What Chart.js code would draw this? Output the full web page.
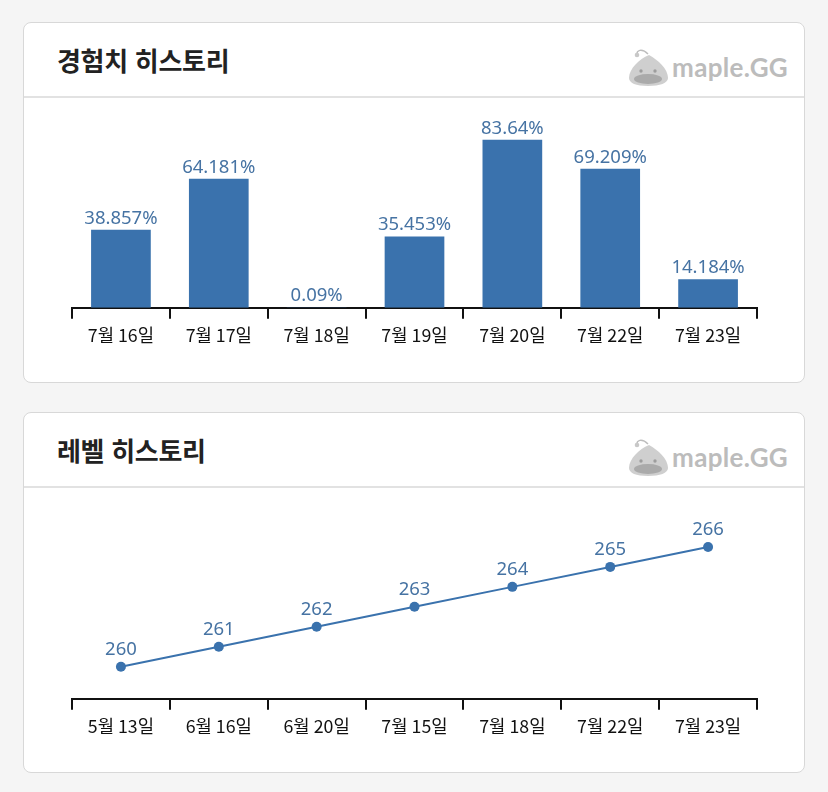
<!DOCTYPE html>
<html lang="ko">
<head>
<meta charset="utf-8">
<title>경험치 / 레벨 히스토리</title>
<script src="https://cdn.jsdelivr.net/npm/chart.js"></script>
<style>
    body {
        margin: 0;
        background: #f5f5f5;
        font-family: 'Noto Sans CJK KR', 'Noto Sans', sans-serif;
        width: 828px;
        height: 792px;
        position: relative;
        overflow: hidden;
    }
    .card {
        position: absolute;
        left: 23px;
        width: 780px;
        height: 359px;
        background: #fff;
        border: 1px solid #d8d8d8;
        border-radius: 8px;
    }
    .card-head {
        position: absolute;
        left: 0;
        top: 0;
        width: 780px;
        height: 73px;
        border-bottom: 2px solid #e2e2e2;
    }
    .card-head h2 {
        position: absolute;
        left: 33px;
        top: 18px;
        margin: 0;
        font-size: 26px;
        font-weight: 700;
        color: #222;
        letter-spacing: -0.3px;
    }
    .logo {
        position: absolute;
        right: 16px;
        top: 24px;
        height: 40px;
        display: flex;
        align-items: center;
        gap: 2px;
    }
    .logo span {
        font-family: 'Lato', sans-serif;
        font-weight: 700;
        font-size: 26px;
        color: #bcbcbc;
        letter-spacing: 0.3px;
    }
    canvas {
        position: absolute;
        left: 0;
    }
</style>
</head>
<body>
    <div class="card" id="expCard" style="top: 22px;">
        <div class="card-head">
            <h2>경험치 히스토리</h2>
            <div class="logo">
                <svg width="44" height="40" viewBox="0 0 44 40">
                    <path d="M22 7 C16 1 10 3 11 8" fill="none" stroke="#bdbdbd" stroke-width="1.5"/>
                    <circle cx="11" cy="8" r="2.3" fill="#c8c8c8"/>
                    <path d="M23 8 C13 12 3 22 3 31 C3 36 10 39 22 39 C34 39 42 36 42 31 C42 22 32 13 23 8 Z" fill="#cfcfcf"/>
                    <ellipse cx="22" cy="32" rx="14" ry="5" fill="#aaaaaa"/>
                    <circle cx="15" cy="24" r="1.7" fill="#9d9d9d"/>
                    <circle cx="29" cy="24" r="1.7" fill="#9d9d9d"/>
                </svg>
                <span>maple.GG</span>
            </div>
        </div>
        <canvas id="expChart" width="780" height="262" style="top: 97px;"></canvas>
    </div>

    <div class="card" id="levelCard" style="top: 412px;">
        <div class="card-head">
            <h2>레벨 히스토리</h2>
            <div class="logo">
                <svg width="44" height="40" viewBox="0 0 44 40">
                    <path d="M22 7 C16 1 10 3 11 8" fill="none" stroke="#bdbdbd" stroke-width="1.5"/>
                    <circle cx="11" cy="8" r="2.3" fill="#c8c8c8"/>
                    <path d="M23 8 C13 12 3 22 3 31 C3 36 10 39 22 39 C34 39 42 36 42 31 C42 22 32 13 23 8 Z" fill="#cfcfcf"/>
                    <ellipse cx="22" cy="32" rx="14" ry="5" fill="#aaaaaa"/>
                    <circle cx="15" cy="24" r="1.7" fill="#9d9d9d"/>
                    <circle cx="29" cy="24" r="1.7" fill="#9d9d9d"/>
                </svg>
                <span>maple.GG</span>
            </div>
        </div>
        <canvas id="levelChart" width="780" height="262" style="top: 96px;"></canvas>
    </div>

    <script>
        // 경험치 히스토리 (exp % per day)
        const expDates = ['7월 16일', '7월 17일', '7월 18일', '7월 19일', '7월 20일', '7월 22일', '7월 23일'];
        const expValues = [38.857, 64.181, 0.09, 35.453, 83.64, 69.209, 14.184];

        // 레벨 히스토리
        const levelDates = ['5월 13일', '6월 16일', '6월 20일', '7월 15일', '7월 18일', '7월 22일', '7월 23일'];
        const levelValues = [260, 261, 262, 263, 264, 265, 266];

        const blue = '#3a72ad';
        const labelBlue = '#4673a3';

        // draws the value above each bar / point
        const valueLabels = {
            id: 'valueLabels',
            afterDatasetsDraw(chart, args, opts) {
                const ctx = chart.ctx;
                const meta = chart.getDatasetMeta(0);
                const values = chart.data.datasets[0].data;
                ctx.save();
                ctx.font = opts.font;
                ctx.fillStyle = opts.color;
                ctx.textAlign = 'center';
                ctx.textBaseline = 'alphabetic';
                meta.data.forEach(function(el, i) {
                    ctx.fillText(values[i] + opts.suffix, el.x, el.y - opts.offset);
                });
                ctx.restore();
            }
        };

        function xAxis() {
            return {
                offset: true,
                grid: {
                    offset: true,
                    drawOnChartArea: false,
                    tickLength: 11,
                    color: '#111',
                    lineWidth: 2
                },
                border: { display: true, color: '#111', width: 2 },
                ticks: {
                    color: '#111',
                    padding: 6,
                    font: { family: "'Noto Sans CJK KR', sans-serif", size: 17.8 }
                }
            };
        }

        new Chart(document.getElementById('expChart'), {
            type: 'bar',
            data: {
                labels: expDates,
                datasets: [{
                    data: expValues,
                    backgroundColor: blue,
                    categoryPercentage: 1,
                    barPercentage: 0.61
                }]
            },
            options: {
                responsive: false,
                animation: false,
                layout: { padding: { left: 48, right: 47, top: 7, bottom: 30 } },
                plugins: {
                    legend: { display: false },
                    tooltip: { enabled: false },
                    valueLabels: { font: "18.5px 'Noto Sans', sans-serif", color: labelBlue, suffix: '%', offset: 6 }
                },
                scales: {
                    x: xAxis(),
                    y: { display: false, min: 0, max: 90 }
                }
            },
            plugins: [valueLabels]
        });

        new Chart(document.getElementById('levelChart'), {
            type: 'line',
            data: {
                labels: levelDates,
                datasets: [{
                    data: levelValues,
                    borderColor: blue,
                    borderWidth: 2,
                    backgroundColor: blue,
                    pointRadius: 5,
                    pointBorderWidth: 0,
                    tension: 0
                }]
            },
            options: {
                responsive: false,
                animation: false,
                layout: { padding: { left: 48, right: 47, top: 8, bottom: 28 } },
                plugins: {
                    legend: { display: false },
                    tooltip: { enabled: false },
                    valueLabels: { font: "18.5px 'Noto Sans', sans-serif", color: labelBlue, suffix: '', offset: 12 }
                },
                scales: {
                    x: xAxis(),
                    y: { display: false, min: 258.4, max: 267.5 }
                }
            },
            plugins: [valueLabels]
        });
    </script>
</body>
</html>
